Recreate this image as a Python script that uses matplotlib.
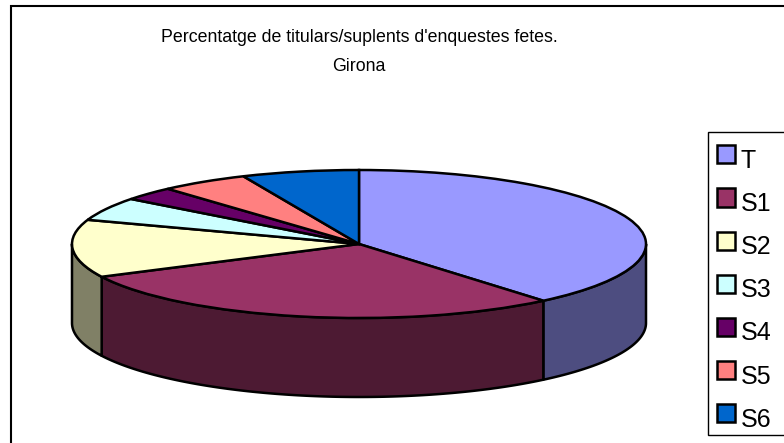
import numpy as np
import matplotlib
matplotlib.use("Agg")
import matplotlib.pyplot as plt
from matplotlib.colors import to_rgb
from matplotlib.legend_handler import HandlerPatch
from matplotlib.patches import Rectangle, Wedge

labels = ["T", "S1", "S2", "S3", "S4", "S5", "S6"]
values = [38.9, 28.8, 12.6, 5.1, 3.0, 5.0, 6.6]
colors = ["#9999FF", "#993366", "#FFFFCC", "#CCFFFF", "#660066", "#FF8080", "#0066CC"]
title = "Percentatge de titulars/suplents d'enquestes fetes.\nGirona"

W, H = 784, 443
plt.rcParams["font.family"] = ["Liberation Sans", "DejaVu Sans"]
fig = plt.figure(figsize=(W / 100, H / 100), dpi=100, facecolor="white")

# Chart area border and legend border: right and bottom sides run off the image
fig.add_artist(Rectangle((10.5 / W, -0.05), 1.0, 1.05 - 6 / H, transform=fig.transFigure,
                         fc="white", ec="black", lw=1.5, zorder=-2))
fig.add_artist(Rectangle((707.5 / W, 1 - 435 / H), 0.2, (435 - 132) / H, transform=fig.transFigure,
                         fc="white", ec="black", lw=1.0, zorder=-1))

# Axes covering the bounding box of the top ellipse
cx, cy, rx, ry = 359, 244, 287, 74
ax = fig.add_axes([(cx - rx) / W, 1 - (cy + ry) / H, 2 * rx / W, 2 * ry / H])
wedges, _ = ax.pie(values, colors=colors, startangle=90, counterclock=False, radius=1,
                   wedgeprops=dict(edgecolor="black", linewidth=1.8, clip_on=False, zorder=5))
ax.set_aspect("auto")
ax.set_xlim(-1, 1)
ax.set_ylim(-1, 1)
ax.axis("off")

# Side wall: the part of each slice's rim that lies in the front half
depth = 79 / ry
edges = 90 - np.cumsum([0] + values) / sum(values) * 360
for hi, lo, col in zip(edges[:-1], edges[1:], colors):
    a, b = max(lo, -180), min(hi, 0)
    if a >= b:
        continue
    t = np.radians(np.linspace(a, b, 120))
    x, y = np.cos(t), np.sin(t)
    ax.fill(np.r_[x, x[::-1]], np.r_[y, y[::-1] - depth], fc=tuple(c * 0.5 for c in to_rgb(col)),
            ec="black", lw=1.8, clip_on=False, zorder=2, joinstyle="round")

fig.text(359 / W, 1 - 52 / H, title, ha="center", va="center", fontsize=12.75, linespacing=1.9, color="black")


def square(legend, orig_handle, xdescent, ydescent, width, height, fontsize):
    return Rectangle((0, 3.3), 13, 13)


fig.legend(wedges, labels, loc="upper left", bbox_to_anchor=(717 / W, 1 - 149 / H), borderpad=0, borderaxespad=0,
           frameon=False, fontsize=18, handlelength=0.72, handleheight=0.7, handletextpad=0.22,
           labelspacing=0.765, handler_map={Wedge: HandlerPatch(patch_func=square)})

fig.savefig("out.png", dpi=100)
